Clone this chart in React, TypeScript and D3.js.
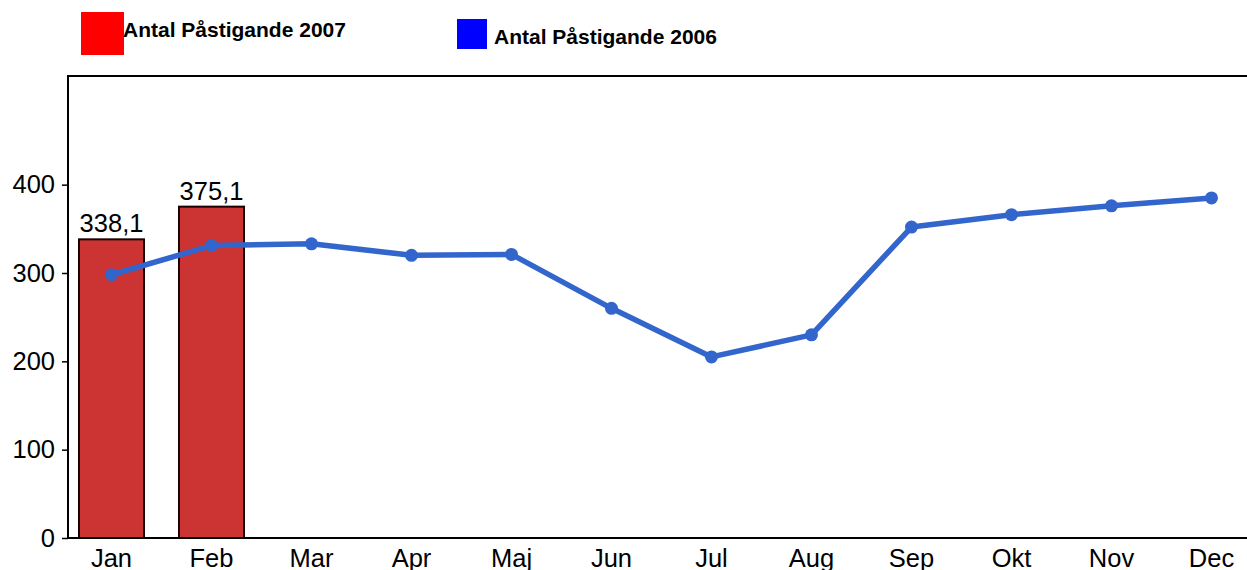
import React, { useRef, useEffect } from 'react';
import * as d3 from 'd3';

// Months shown on the x axis
const months = ['Jan', 'Feb', 'Mar', 'Apr', 'Maj', 'Jun', 'Jul', 'Aug', 'Sep', 'Okt', 'Nov', 'Dec'];

// Antal Påstigande 2007 (bars, only first two months reported)
const values2007 = [338.1, 375.1];
const labels2007 = ['338,1', '375,1'];

// Antal Påstigande 2006 (line)
const values2006 = [298, 331, 333, 320, 321, 260, 205, 230, 352, 366, 376, 385];

const yTicks = [0, 100, 200, 300, 400];

const WIDTH = 1247;
const HEIGHT = 570;

const App = () => {
  const ref = useRef<SVGSVGElement>(null);

  useEffect(() => {
    const svg = d3.select(ref.current);
    svg.selectAll('*').remove();

    const font = 'Liberation Sans, Arial, sans-serif';
    const left = 68;
    const top = 76;
    const bottom = 538;

    const x = d3.scaleBand<string>()
      .domain(months)
      .range([61.5, 1261.5])
      .paddingInner(0.35)
      .paddingOuter(0.175);

    const y = d3.scaleLinear().domain([0, 523]).range([bottom, top]);

    // Legend
    const legend = [
      { label: 'Antal Påstigande 2007', color: '#ff0000', x: 81, y: 12, size: 43, tx: 123, ty: 37 },
      { label: 'Antal Påstigande 2006', color: '#0000ff', x: 457, y: 19, size: 30, tx: 494, ty: 44 },
    ];
    legend.forEach(l => {
      svg.append('rect')
        .attr('x', l.x)
        .attr('y', l.y)
        .attr('width', l.size)
        .attr('height', l.size)
        .attr('fill', l.color);
      svg.append('text')
        .attr('x', l.tx)
        .attr('y', l.ty)
        .attr('font-family', font)
        .attr('font-size', '21px')
        .attr('font-weight', 'bold')
        .attr('fill', '#000')
        .text(l.label);
    });

    // Frame: top border, left axis, bottom axis
    svg.append('line')
      .attr('x1', left).attr('x2', WIDTH)
      .attr('y1', top).attr('y2', top)
      .attr('stroke', '#000').attr('stroke-width', 2);

    const yAxis = d3.axisLeft(y)
      .tickValues(yTicks)
      .tickSize(6)
      .tickPadding(7)
      .tickFormat(d => `${d}`);

    const gy = svg.append('g')
      .attr('transform', `translate(${left},0)`)
      .call(yAxis);
    gy.select('.domain').remove();
    gy.selectAll('line').attr('stroke', '#000').attr('stroke-width', 1.5);
    gy.selectAll('text')
      .attr('font-family', font)
      .attr('font-size', '25.5px')
      .attr('fill', '#000');

    svg.append('line')
      .attr('x1', left).attr('x2', left)
      .attr('y1', top - 1).attr('y2', bottom + 1)
      .attr('stroke', '#000').attr('stroke-width', 2);

    // Bars 2007
    svg.selectAll('.bar')
      .data(values2007)
      .enter()
      .append('rect')
      .attr('class', 'bar')
      .attr('x', (d, i) => x(months[i])!)
      .attr('y', d => y(d))
      .attr('width', x.bandwidth())
      .attr('height', d => bottom - y(d))
      .attr('fill', '#cc3333')
      .attr('stroke', '#1a0000')
      .attr('stroke-width', 2);

    svg.selectAll('.bar-label')
      .data(values2007)
      .enter()
      .append('text')
      .attr('class', 'bar-label')
      .attr('x', (d, i) => x(months[i])! + x.bandwidth() / 2)
      .attr('y', d => y(d) - 7)
      .attr('text-anchor', 'middle')
      .attr('font-family', font)
      .attr('font-size', '25.5px')
      .attr('fill', '#000')
      .text((d, i) => labels2007[i]);

    svg.append('line')
      .attr('x1', left).attr('x2', WIDTH)
      .attr('y1', bottom).attr('y2', bottom)
      .attr('stroke', '#000').attr('stroke-width', 2);

    // X labels
    svg.selectAll('.x-label')
      .data(months)
      .enter()
      .append('text')
      .attr('class', 'x-label')
      .attr('x', d => x(d)! + x.bandwidth() / 2)
      .attr('y', 567)
      .attr('text-anchor', 'middle')
      .attr('font-family', font)
      .attr('font-size', '25.5px')
      .attr('fill', '#000')
      .text(d => d);

    // Line 2006
    const line = d3.line<number>()
      .x((d, i) => x(months[i])! + x.bandwidth() / 2)
      .y(d => y(d));

    svg.append('path')
      .datum(values2006)
      .attr('fill', 'none')
      .attr('stroke', '#3366cc')
      .attr('stroke-width', 5.5)
      .attr('stroke-linejoin', 'round')
      .attr('d', line);

    svg.selectAll('.dot')
      .data(values2006)
      .enter()
      .append('circle')
      .attr('class', 'dot')
      .attr('cx', (d, i) => x(months[i])! + x.bandwidth() / 2)
      .attr('cy', d => y(d))
      .attr('r', 6.5)
      .attr('fill', '#3366cc');
  }, []);

  return (
    <div style={{ position: 'fixed', left: 0, top: 0, background: '#fff' }}>
      <svg ref={ref} width={WIDTH} height={HEIGHT} style={{ display: 'block' }} />
    </div>
  );
};

export default App;
